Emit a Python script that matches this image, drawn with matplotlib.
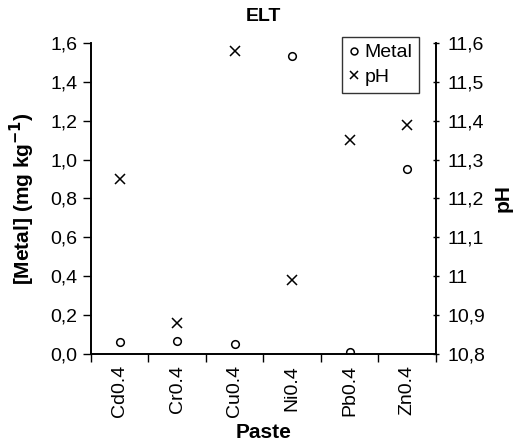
import numpy as np
import matplotlib
matplotlib.use("Agg")
import matplotlib.pyplot as plt
from matplotlib.ticker import FuncFormatter

plt.rcParams['font.family'] = ['Liberation Sans', 'DejaVu Sans']

# data
pastes = ['Cd0.4', 'Cr0.4', 'Cu0.4', 'Ni0.4', 'Pb0.4', 'Zn0.4']
metal = [0.063, 0.068, 0.053, 1.533, 0.010, 0.950]
ph = [11.25, 10.88, 11.58, 10.99, 11.35, 11.39]

fig = plt.figure(figsize=(5.22, 4.47), dpi=100)
ax = fig.add_axes([0.174, 0.208, 0.661, 0.696])
ax2 = ax.twinx()

x = np.arange(len(pastes))
h1, = ax.plot(x, metal, 'o', ms=5.5, mfc='none', mec='black', mew=1.1, ls='none', label='Metal')
h2, = ax2.plot(x, ph, 'x', ms=6.5, color='black', mew=1.1, ls='none', label='pH')

ax.set_xlim(-0.5, 5.5)
ax.set_ylim(0, 1.6)
ax.set_yticks(np.arange(0, 1.61, 0.2))
ax.yaxis.set_major_formatter(FuncFormatter(lambda v, p: f'{v:.1f}'.replace('.', ',')))
ax2.set_ylim(10.8, 11.6)
ax2.set_yticks(np.arange(10.8, 11.61, 0.1))
ax2.yaxis.set_major_formatter(FuncFormatter(lambda v, p: f'{v:.1f}'.replace('.', ',') if abs(v - round(v)) > 1e-6 else f'{round(v)}'))

ax.set_xticks(np.arange(-0.5, 5.6, 1.0))
ax.set_xticklabels([])
ax.set_xticks(x, minor=True)
ax.set_xticklabels(pastes, minor=True, rotation=90, fontsize=14)
ax.tick_params(axis='x', which='minor', length=0, pad=8)
ax.tick_params(axis='x', which='major', length=6, direction='out', width=1)
ax.tick_params(axis='y', length=6, direction='out', labelsize=14, width=1)
ax2.tick_params(axis='y', length=5, direction='inout', labelsize=14, width=1, pad=6)

for a in (ax, ax2):
    a.spines['top'].set_visible(False)
    for s in ('left', 'right', 'bottom'):
        a.spines[s].set_linewidth(1.2)

ax.set_xlabel('Paste', fontsize=15, fontweight='bold', labelpad=4)
ax.set_ylabel('[Metal] (mg kg$^{\\mathbf{-1}}$)', fontsize=15, fontweight='bold', labelpad=10)
ax2.set_ylabel('pH', fontsize=15, fontweight='bold', labelpad=6)
ax.set_title('ELT', fontsize=14, fontweight='bold', pad=16)

leg = ax.legend([h1, h2], ['Metal', 'pH'], loc='upper left', bbox_to_anchor=(0.70, 1.05),
                fontsize=14, frameon=True, fancybox=False, edgecolor='black',
                handlelength=0.5, handletextpad=0.3, borderpad=0.35, labelspacing=0.35,
                markerscale=0.9)
leg.get_frame().set_linewidth(1.0)

fig.savefig('out.png', dpi=100)
